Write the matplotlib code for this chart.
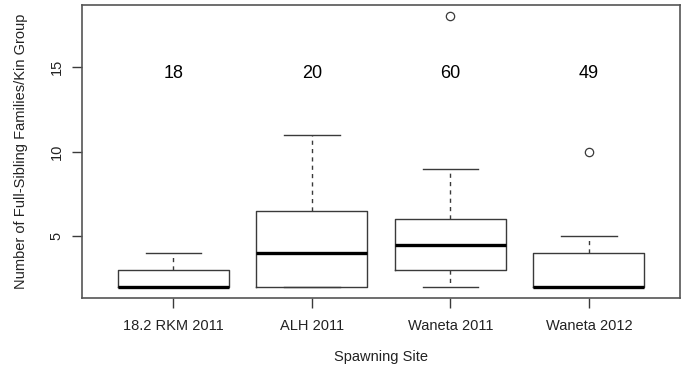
import matplotlib.pyplot as plt

plt.rcParams['font.family'] = ['Liberation Sans', 'DejaVu Sans']

sites = ["18.2 RKM 2011", "ALH 2011", "Waneta 2011", "Waneta 2012"]
counts = [18, 20, 60, 49]
whislo = [2, 2, 2, 2]
q1 = [2, 2, 3, 2]
med = [2, 4, 4.5, 2]
q3 = [3, 6.5, 6, 4]
whishi = [4, 11, 9, 5]
fliers = [[], [], [18], [10]]

stats = []
for i in range(len(sites)):
    stats.append(dict(label=sites[i], whislo=whislo[i], q1=q1[i], med=med[i],
                      q3=q3[i], whishi=whishi[i], fliers=fliers[i]))

fig = plt.figure(figsize=(6.83, 3.76), dpi=100)
ax = fig.add_axes([0.120, 0.207, 0.876, 0.780])

ink = '#3a3a3a'
ax.bxp(stats, positions=[1, 2, 3, 4], widths=0.8, showfliers=True,
       boxprops=dict(color=ink, lw=1.0),
       medianprops=dict(color='black', lw=2.4, solid_capstyle='butt'),
       whiskerprops=dict(color=ink, lw=1.0, linestyle=(0, (3, 3))),
       capprops=dict(color=ink, lw=1.0),
       capwidths=0.4,
       flierprops=dict(marker='o', markerfacecolor='none', markeredgecolor=ink,
                       markersize=6, markeredgewidth=0.9))

# sample sizes above each box
for i, n in enumerate(counts):
    ax.text(i + 1, 14.6, str(n), ha='center', va='center', fontsize=13,
            color='black')

ax.set_xlim(0.34, 4.66)
ax.set_ylim(1.36, 18.64)
ax.set_yticks([5, 10, 15])
ax.set_yticklabels(['5', '10', '15'], rotation=90, va='center')
ax.set_xticks([1, 2, 3, 4])
ax.set_xticklabels(sites)
ax.tick_params(colors=ink, labelcolor='#222222', labelsize=10.5, length=7, width=1.0)
ax.tick_params(axis='x', pad=8)
ax.tick_params(axis='y', pad=6)
for s in ax.spines.values():
    s.set_color('#555555')
    s.set_linewidth(1.2)

ax.set_xlabel("Spawning Site", fontsize=10.5, color='#222222', labelpad=12)
ax.set_ylabel("Number of Full-Sibling Families/Kin Group", fontsize=10.5, color='#222222', labelpad=16)

fig.savefig("out.png", dpi=100)
